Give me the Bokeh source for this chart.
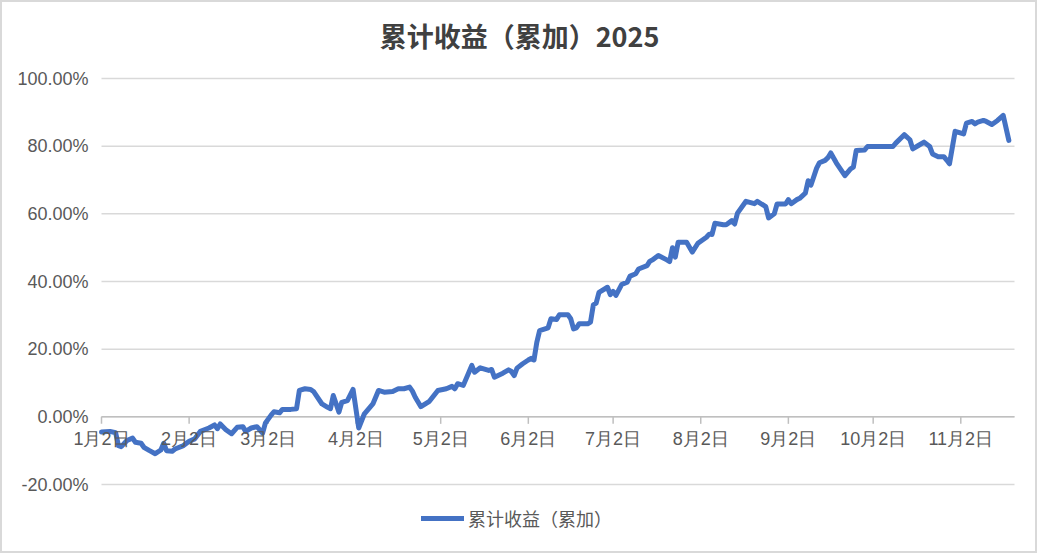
import pandas as pd
from bokeh.plotting import figure
from bokeh.core.properties import value
from bokeh.models import (Range1d, ColumnDataSource, LabelSet, Label, Legend, LegendItem)
from bokeh.embed import file_html
from bokeh.resources import INLINE

title_text = "累计收益（累加）2025"
series_name = "累计收益（累加）"

dates = [
    "2025-01-02", "2025-01-05", "2025-01-07", "2025-01-08", "2025-01-09", "2025-01-11",
    "2025-01-13", "2025-01-14", "2025-01-16", "2025-01-17", "2025-01-19", "2025-01-21",
    "2025-01-23", "2025-01-24", "2025-01-25", "2025-01-27", "2025-01-28", "2025-01-31",
    "2025-02-02", "2025-02-04", "2025-02-06", "2025-02-09", "2025-02-11", "2025-02-12",
    "2025-02-13", "2025-02-15", "2025-02-17", "2025-02-19", "2025-02-21", "2025-02-22",
    "2025-02-24", "2025-02-26", "2025-02-28", "2025-03-01", "2025-03-03", "2025-03-04",
    "2025-03-06", "2025-03-07", "2025-03-10", "2025-03-12", "2025-03-13", "2025-03-15",
    "2025-03-17", "2025-03-18", "2025-03-21", "2025-03-23", "2025-03-24", "2025-03-25",
    "2025-03-27", "2025-03-28", "2025-03-30", "2025-04-01", "2025-04-03", "2025-04-05",
    "2025-04-08", "2025-04-10", "2025-04-12", "2025-04-15", "2025-04-17", "2025-04-19",
    "2025-04-21", "2025-04-22", "2025-04-23", "2025-04-25", "2025-04-28", "2025-05-01",
    "2025-05-04", "2025-05-06", "2025-05-07", "2025-05-08", "2025-05-10", "2025-05-13",
    "2025-05-14", "2025-05-16", "2025-05-19", "2025-05-20", "2025-05-21", "2025-05-24",
    "2025-05-26", "2025-05-27", "2025-05-28", "2025-05-29", "2025-05-31", "2025-06-02",
    "2025-06-03", "2025-06-04", "2025-06-05", "2025-06-06", "2025-06-09", "2025-06-10",
    "2025-06-12", "2025-06-13", "2025-06-16", "2025-06-17", "2025-06-18", "2025-06-19",
    "2025-06-20", "2025-06-23", "2025-06-24", "2025-06-25", "2025-06-26", "2025-06-27",
    "2025-06-30", "2025-07-01", "2025-07-02", "2025-07-03", "2025-07-05", "2025-07-07",
    "2025-07-08", "2025-07-10", "2025-07-11", "2025-07-14", "2025-07-15", "2025-07-16",
    "2025-07-18", "2025-07-21", "2025-07-22", "2025-07-23", "2025-07-24", "2025-07-25",
    "2025-07-28", "2025-07-30", "2025-08-01", "2025-08-04", "2025-08-05", "2025-08-06",
    "2025-08-07", "2025-08-10", "2025-08-11", "2025-08-13", "2025-08-14", "2025-08-15",
    "2025-08-18", "2025-08-21", "2025-08-22", "2025-08-25", "2025-08-26", "2025-08-28",
    "2025-08-29", "2025-09-01", "2025-09-02", "2025-09-03", "2025-09-05", "2025-09-06",
    "2025-09-08", "2025-09-09", "2025-09-10", "2025-09-12", "2025-09-13", "2025-09-15",
    "2025-09-16", "2025-09-17", "2025-09-19", "2025-09-22", "2025-09-24", "2025-09-25",
    "2025-09-26", "2025-09-29", "2025-09-30", "2025-10-09", "2025-10-10", "2025-10-13",
    "2025-10-15", "2025-10-16", "2025-10-18", "2025-10-20", "2025-10-22", "2025-10-23",
    "2025-10-25", "2025-10-27", "2025-10-28", "2025-10-29", "2025-10-31", "2025-11-03",
    "2025-11-04", "2025-11-06", "2025-11-07", "2025-11-08", "2025-11-10", "2025-11-11",
    "2025-11-13", "2025-11-15", "2025-11-17", "2025-11-19",
]

# cumulative return in percent
returns = [
    -4.5, -4.3, -4.7, -8.5, -8.8, -7.0,
    -6.3, -7.5, -7.8, -9.0, -10.0, -10.9,
    -9.8, -7.8, -10.0, -10.2, -9.5, -8.5,
    -7.2, -6.5, -4.3, -3.3, -2.4, -3.5,
    -2.1, -3.8, -5.0, -3.1, -2.9, -4.3,
    -3.3, -2.9, -4.8, -1.8, 0.5, 1.5,
    1.2, 2.2, 2.2, 2.4, 7.8, 8.3,
    8.1, 7.5, 3.8, 2.8, 2.4, 6.3,
    1.4, 4.3, 4.8, 8.1, -3.3, 0.9,
    3.8, 7.8, 7.3, 7.5, 8.3, 8.3,
    8.8, 7.6, 5.8, 3.0, 4.6, 7.8,
    8.3, 9.0, 8.3, 9.8, 9.3, 15.2,
    13.2, 14.5, 13.7, 14.0, 11.7, 12.9,
    13.9, 13.4, 12.2, 14.4, 15.7, 16.8,
    17.3, 16.8, 22.0, 25.5, 26.3, 29.0,
    28.8, 30.2, 30.2, 29.0, 26.0, 26.3,
    27.5, 27.5, 28.0, 33.1, 33.6, 36.8,
    38.3, 36.1, 37.1, 35.9, 39.1, 39.8,
    41.6, 42.3, 43.7, 44.7, 46.0, 46.4,
    47.7, 46.4, 45.9, 50.0, 47.2, 51.6,
    51.6, 48.7, 51.3, 53.1, 54.0, 53.9,
    57.2, 56.8, 56.8, 58.0, 57.0, 60.2,
    63.7, 63.0, 63.7, 62.1, 58.8, 60.0,
    62.9, 62.9, 64.2, 63.0, 64.2, 64.6,
    66.1, 69.8, 68.5, 73.5, 75.1, 75.8,
    76.6, 78.0, 75.0, 71.3, 73.3, 73.8,
    78.7, 78.9, 79.9, 79.9, 80.9, 83.4,
    81.9, 79.2, 80.2, 81.2, 79.9, 77.7,
    76.9, 76.9, 75.9, 74.8, 84.4, 83.6,
    86.8, 87.3, 86.6, 87.1, 87.6, 87.3,
    86.4, 87.6, 89.1, 81.7,
]

tick_dates = ["2025-01-02", "2025-02-02", "2025-03-02", "2025-04-02", "2025-05-02", "2025-06-02",
              "2025-07-02", "2025-08-02", "2025-09-02", "2025-10-02", "2025-11-02"]
tick_labels = ["1月2日", "2月2日", "3月2日", "4月2日", "5月2日", "6月2日",
               "7月2日", "8月2日", "9月2日", "10月2日", "11月2日"]
y_ticks = [-20, 0, 20, 40, 60, 80, 100]
y_labels = ["-20.00%", "0.00%", "20.00%", "40.00%", "60.00%", "80.00%", "100.00%"]

x_start = pd.Timestamp("2025-01-02")
x_end = pd.Timestamp("2025-11-21")

W, H = 1037, 553
# plot area inside the canvas (pixels)
pl, pr, pt, pb = 101, 1014, 78, 484
day_px = (pr - pl) / (x_end - x_start).days
pct_px = (pb - pt) / (y_ticks[-1] - y_ticks[0])

x = pd.to_datetime(dates)
tx = pd.to_datetime(tick_dates)

p = figure(width=W, height=H, x_axis_location=None, y_axis_location=None,
           x_range=Range1d(x_start - pd.Timedelta(days=pl / day_px),
                           x_end + pd.Timedelta(days=(W - pr) / day_px)),
           y_range=Range1d(y_ticks[0] - (H - pb) / pct_px, y_ticks[-1] + pt / pct_px),
           output_backend="svg", toolbar_location=None,
           min_border=0)
# chart border
p.outline_line_color = "#D9D9D9"
p.outline_line_width = 3
p.grid.visible = False

# horizontal grid lines
p.segment(x0=[x_start] * len(y_ticks), y0=y_ticks, x1=[x_end] * len(y_ticks), y1=y_ticks,
          line_color="#D9D9D9", line_width=1.5)
# category axis ticks on the zero line
p.segment(x0=tx, y0=0, x1=tx, y1=-7 / pct_px, line_color="#BFBFBF", line_width=1.5)
p.segment(x0=[x_start], y0=[0], x1=[x_end], y1=[0], line_color="#BFBFBF", line_width=1.5)

r = p.line(x, returns, line_color="#4472C4", line_width=5, line_join="round", line_cap="round")

ysrc = ColumnDataSource(dict(x=[x_start] * len(y_ticks), y=y_ticks, label=y_labels))
p.add_layout(LabelSet(x="x", y="y", text="label", source=ysrc, x_offset=-13,
                      text_align="right", text_baseline="middle",
                      text_font=value("Liberation Sans"), text_font_size="18px",
                      text_color="#595959"))

xsrc = ColumnDataSource(dict(x=tx, y=[0] * len(tick_dates), label=tick_labels))
p.add_layout(LabelSet(x="x", y="y", text="label", source=xsrc, y_offset=-12,
                      text_align="center", text_baseline="top",
                      text_font=value("Liberation Sans"), text_font_size="18px",
                      text_color="#595959"))

p.add_layout(Label(x=519, y=518, x_units="screen", y_units="screen", text=title_text,
                   text_align="center", text_baseline="middle",
                   text_font="Noto Sans CJK SC", text_font_style="bold",
                   text_font_size="27px", text_color="#404040"))

legend = Legend(items=[LegendItem(label=series_name, renderers=[r])], location=(421, 22),
                padding=0, spacing=0, margin=0, border_line_color=None, background_fill_alpha=0,
                glyph_width=43, glyph_height=20, label_standoff=4,
                label_text_font="Noto Sans CJK SC", label_text_font_size="18px",
                label_text_color="#595959")
p.add_layout(legend)

open("out.html", "w").write(file_html(p, INLINE))
